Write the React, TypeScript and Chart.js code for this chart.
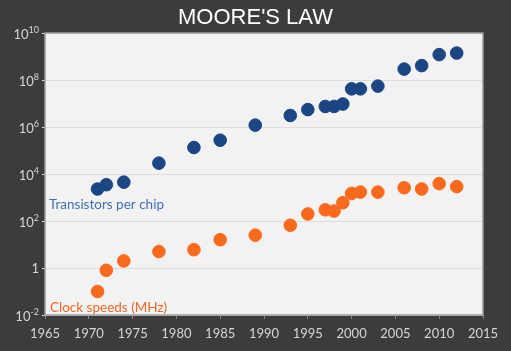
import React, { useEffect, useRef } from "react";
import { Chart, registerables } from "chart.js";

Chart.register(...registerables);

const years = [1971, 1972, 1974, 1978, 1982, 1985, 1989, 1993, 1995, 1997, 1998, 1999, 2000, 2001, 2003, 2006, 2008, 2010, 2012];
const transistors = [2300, 3500, 4500, 29000, 134000, 275000, 1200000, 3100000, 5500000, 7500000, 7500000, 9500000, 42000000, 42000000, 55000000, 291000000, 410000000, 1200000000, 1400000000];
const clockMHz = [0.1, 0.8, 2, 5, 6, 16, 25, 66, 200, 300, 266, 600, 1500, 1700, 1700, 2600, 2300, 3900, 2900];
const yTickExponents = [-2, 0, 2, 4, 6, 8, 10];
const xTicks = [1965, 1970, 1975, 1980, 1985, 1990, 1995, 2000, 2005, 2010, 2015];

const TICK_FONT = "Lato, 'Open Sans', sans-serif";

export default function App() {
  const ref = useRef<HTMLCanvasElement>(null);
  useEffect(() => {
    document.body.style.margin = "0";
    document.body.style.background = "#3c3c3c";
    const bgPlugin = {
      id: "bg",
      beforeDraw(chart: any) {
        const { ctx, chartArea: a, width, height } = chart;
        ctx.save();
        ctx.fillStyle = "#3c3c3c";
        ctx.fillRect(0, 0, width, height);
        ctx.fillStyle = "#f2f2f2";
        ctx.fillRect(a.left, a.top, a.right - a.left, a.bottom - a.top);
        ctx.restore();
      },
      afterDraw(chart: any) {
        const { ctx, chartArea: a, width } = chart;
        const ys = chart.scales.y;
        ctx.save();
        ctx.strokeStyle = "#9a9a9a";
        ctx.lineWidth = 1.5;
        ctx.strokeRect(a.left, a.top, a.right - a.left, a.bottom - a.top);
        // title
        ctx.fillStyle = "#ffffff";
        ctx.font = "22px 'Liberation Sans', Arial, sans-serif";
        ctx.textAlign = "center";
        ctx.textBaseline = "alphabetic";
        ctx.fillText("MOORE'S LAW", width / 2, 24);
        // y tick labels with superscript exponents
        ctx.fillStyle = "#d6d6d6";
        ctx.textBaseline = "alphabetic";
        const right = a.left - 6;
        yTickExponents.forEach((e) => {
          const py = ys.getPixelForValue(Math.pow(10, e));
          if (e === 0) {
            ctx.font = `13px ${TICK_FONT}`;
            ctx.textAlign = "right";
            ctx.fillText("1", right, py + 5);
            return;
          }
          const exp = String(e);
          ctx.font = `9px ${TICK_FONT}`;
          const ew = ctx.measureText(exp).width;
          ctx.textAlign = "left";
          ctx.fillText(exp, right - ew, py);
          ctx.font = `13px ${TICK_FONT}`;
          ctx.textAlign = "right";
          ctx.fillText("10", right - ew, py + 5.5);
        });
        // annotations
        ctx.textAlign = "left";
        ctx.font = "13.5px Lato, 'Open Sans', sans-serif";
        ctx.fillStyle = "#3f6fb3";
        ctx.fillText("Transistors per chip", a.left + 4, a.top + 176);
        ctx.fillStyle = "#f0672a";
        ctx.fillText("Clock speeds (MHz)", a.left + 5, a.bottom - 3);
        ctx.restore();
      },
    };
    const chart = new Chart(ref.current!, {
      type: "scatter",
      data: {
        datasets: [
          {
            label: "Transistors per chip",
            data: years.map((x, i) => ({ x, y: transistors[i] })),
            backgroundColor: "#1b4683",
            borderColor: "#1b4683",
            pointRadius: 6.3,
            pointHoverRadius: 6.3,
          },
          {
            label: "Clock speeds (MHz)",
            data: years.map((x, i) => ({ x, y: clockMHz[i] })),
            backgroundColor: "#fb6a1c",
            borderColor: "#fb6a1c",
            pointRadius: 6.3,
            pointHoverRadius: 6.3,
          },
        ],
      },
      options: {
        animation: false,
        responsive: false,
        maintainAspectRatio: false,
        events: [],
        layout: { padding: { left: 0, right: 28, top: 33, bottom: 0 } },
        plugins: { legend: { display: false }, title: { display: false }, tooltip: { enabled: false } },
        scales: {
          x: {
            type: "linear",
            min: 1965,
            max: 2015,
            afterBuildTicks: (s: any) => {
              s.ticks = xTicks.map((v) => ({ value: v }));
            },
            afterFit: (s: any) => {
              s.height = 36;
            },
            ticks: {
              color: "#d6d6d6",
              font: { family: TICK_FONT, size: 13 },
              padding: 7,
              maxRotation: 0,
              autoSkip: false,
              callback: (v: any) => String(v),
            },
            grid: { drawOnChartArea: false, drawTicks: true, tickLength: 4, color: "#8a8a8a" },
            border: { display: false },
          },
          y: {
            type: "logarithmic",
            min: 1e-2,
            max: 1e10,
            afterBuildTicks: (s: any) => {
              s.ticks = yTickExponents.map((e) => ({ value: Math.pow(10, e) }));
            },
            afterFit: (s: any) => {
              s.width = 45;
            },
            ticks: { display: false, autoSkip: false },
            grid: { color: "#dedede", tickLength: 3, lineWidth: 1 },
            border: { display: false },
          },
        },
      },
      plugins: [bgPlugin],
    });
    return () => chart.destroy();
  }, []);
  return <canvas ref={ref} width={511} height={351} style={{ display: "block" }} />;
}
